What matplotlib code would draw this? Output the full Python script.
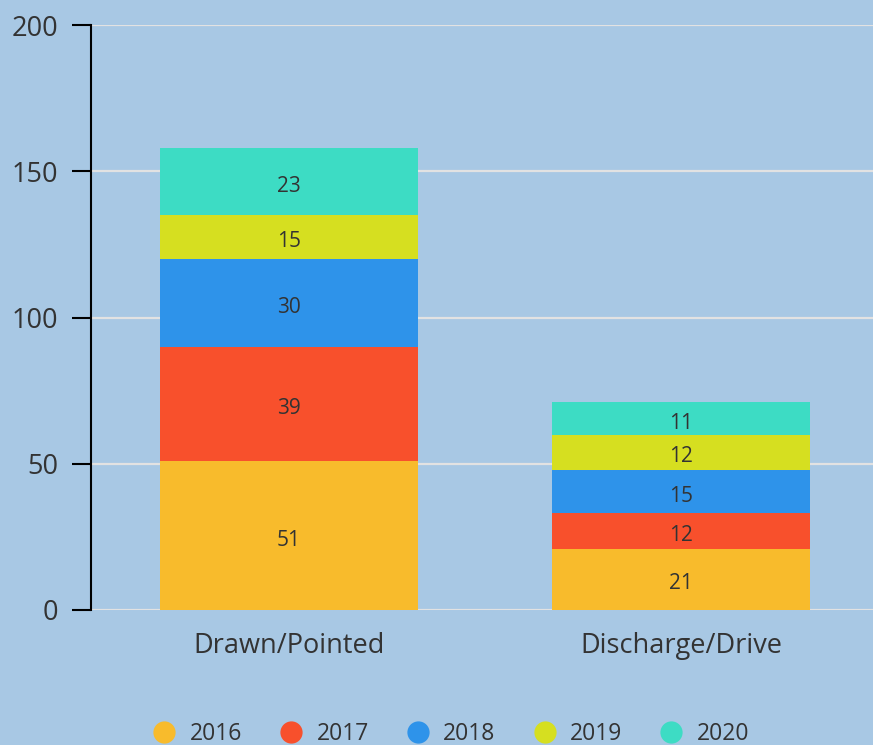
import matplotlib
matplotlib.use("Agg")
import matplotlib.pyplot as plt
from matplotlib.lines import Line2D
import numpy as np

categories = ["Drawn/Pointed", "Discharge/Drive"]
years = ["2016", "2017", "2018", "2019", "2020"]
values = {
    "2016": [51, 21],
    "2017": [39, 12],
    "2018": [30, 15],
    "2019": [15, 12],
    "2020": [23, 11],
}
colors = ["#f8bb2c", "#f8502c", "#2e93ea", "#d6df20", "#3ddcc4"]
yticks = [0, 50, 100, 150, 200]

plt.rcParams['font.family'] = ['Open Sans', 'DejaVu Sans']
bg = "#a8c8e4"
text_color = "#333333"

fig = plt.figure(figsize=(8.73, 7.45), dpi=100, facecolor=bg)
ax = fig.add_axes([91/873, 1-610/745, 1-91/873, (610-25)/745])
ax.set_facecolor(bg)

x = np.arange(len(categories))
bottom = np.zeros(len(categories))
for yr, c in zip(years, colors):
    v = np.array(values[yr], dtype=float)
    ax.bar(x, v, bottom=bottom, width=0.658, color=c, zorder=3)
    for xi, vi, bi in zip(x, v, bottom):
        ax.text(xi, bi + vi/2 - 1.6, f"{int(vi)}", ha='center', va='center',
                fontsize=15, color=text_color, zorder=4)
    bottom += v

ax.set_xlim(-0.505, 1.49)
ax.set_ylim(0, 200)
ax.set_yticks(yticks)
ax.set_yticklabels([str(t) for t in yticks], fontsize=19.5, color=text_color)
ax.set_xticks(x)
ax.set_xticklabels(categories, fontsize=19.5, color=text_color)
ax.tick_params(axis='x', length=0, pad=16)
ax.tick_params(axis='y', length=13.5, width=1.5, color='black', pad=10)

ax.grid(axis='y', color='#e2e2e2', linewidth=1.6, zorder=1)
for s in ['top', 'right', 'bottom']:
    ax.spines[s].set_visible(False)
ax.spines['left'].set_linewidth(1.5)
ax.spines['left'].set_color('black')

handles = [Line2D([0], [0], marker='o', linestyle='none', markersize=15,
                  markerfacecolor=c, markeredgecolor=c) for c in colors]
fig.legend(handles, years, loc='center', bbox_to_anchor=(0.51, 0.015), ncol=5,
           frameon=False, fontsize=16.5, handletextpad=0.1, columnspacing=1.15,
           labelcolor=text_color)

fig.savefig("out.png", dpi=100, facecolor=bg)
